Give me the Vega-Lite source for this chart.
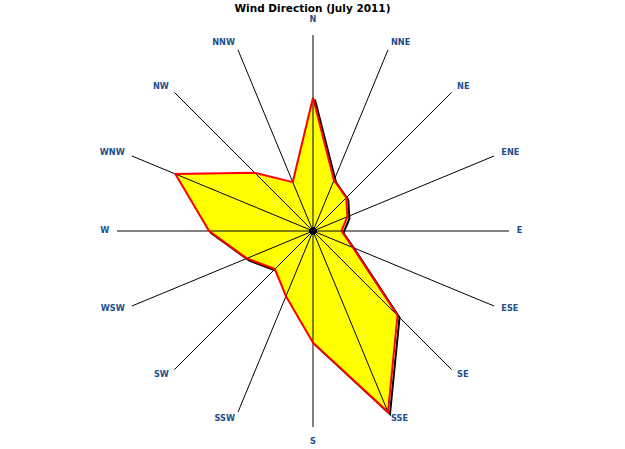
{
  "$schema": "https://vega.github.io/schema/vega-lite/v6.json",
  "width": 625,
  "height": 429,
  "autosize": {"type": "none"},
  "padding": {"left": 0, "top": 20, "right": 0, "bottom": 0},
  "background": "white",
  "title": {
    "text": "Wind Direction (July 2011)",
    "anchor": "middle",
    "font": "DejaVu Sans",
    "fontSize": 10.5,
    "fontWeight": "bold",
    "color": "black",
    "offset": 0
  },
  "config": {"view": {"stroke": null}},
  "data": {
    "values": [
      {"dir": "N", "angle": 0, "value": 0.68},
      {"dir": "NNE", "angle": 22.5, "value": 0.28},
      {"dir": "NE", "angle": 45, "value": 0.24},
      {"dir": "ENE", "angle": 67.5, "value": 0.19},
      {"dir": "E", "angle": 90, "value": 0.145},
      {"dir": "ESE", "angle": 112.5, "value": 0.22},
      {"dir": "SE", "angle": 135, "value": 0.61},
      {"dir": "SSE", "angle": 157.5, "value": 1.0},
      {"dir": "S", "angle": 180, "value": 0.57},
      {"dir": "SSW", "angle": 202.5, "value": 0.36},
      {"dir": "SW", "angle": 225, "value": 0.275},
      {"dir": "WSW", "angle": 247.5, "value": 0.365},
      {"dir": "W", "angle": 270, "value": 0.53},
      {"dir": "WNW", "angle": 292.5, "value": 0.76},
      {"dir": "NW", "angle": 315, "value": 0.42},
      {"dir": "NNW", "angle": 337.5, "value": 0.27}
    ]
  },
  "transform": [
    {"calculate": "sin(datum.angle * PI / 180)", "as": "ux"},
    {"calculate": "cos(datum.angle * PI / 180)", "as": "uy"},
    {"calculate": "datum.value * datum.ux", "as": "px"},
    {"calculate": "datum.value * datum.uy", "as": "py"},
    {"calculate": "1.04 * datum.ux", "as": "lx"},
    {"calculate": "1.04 * datum.uy", "as": "ly"},
    {"calculate": "1.077 * datum.uy", "as": "ly2"},
    {"calculate": "0", "as": "o"}
  ],
  "layer": [
    {
      "mark": {"type": "line", "interpolate": "linear-closed", "color": "black", "strokeWidth": 2, "xOffset": 2, "yOffset": 2},
      "encoding": {
        "x": {"field": "px", "type": "quantitative", "scale": {"domain": [-1.597, 1.592], "nice": false, "zero": false}, "axis": null},
        "y": {"field": "py", "type": "quantitative", "scale": {"domain": [-1.1122, 1.0765], "nice": false, "zero": false}, "axis": null},
        "order": {"field": "angle", "type": "quantitative"}
      }
    },
    {
      "mark": {"type": "line", "interpolate": "linear-closed", "color": "#FFFF00", "fill": "#FFFF00", "strokeWidth": 0},
      "encoding": {
        "x": {"field": "px", "type": "quantitative", "scale": {"domain": [-1.597, 1.592], "nice": false, "zero": false}, "axis": null},
        "y": {"field": "py", "type": "quantitative", "scale": {"domain": [-1.1122, 1.0765], "nice": false, "zero": false}, "axis": null},
        "order": {"field": "angle", "type": "quantitative"}
      }
    },
    {
      "mark": {"type": "rule", "color": "black", "strokeWidth": 1},
      "encoding": {
        "x": {"field": "o", "type": "quantitative", "scale": {"domain": [-1.597, 1.592], "nice": false, "zero": false}, "axis": null},
        "y": {"field": "o", "type": "quantitative", "scale": {"domain": [-1.1122, 1.0765], "nice": false, "zero": false}, "axis": null},
        "x2": {"field": "ux"},
        "y2": {"field": "uy"}
      }
    },
    {
      "mark": {"type": "line", "interpolate": "linear-closed", "color": "#FF0000", "strokeWidth": 2},
      "encoding": {
        "x": {"field": "px", "type": "quantitative", "scale": {"domain": [-1.597, 1.592], "nice": false, "zero": false}, "axis": null},
        "y": {"field": "py", "type": "quantitative", "scale": {"domain": [-1.1122, 1.0765], "nice": false, "zero": false}, "axis": null},
        "order": {"field": "angle", "type": "quantitative"}
      }
    },
    {
      "transform": [{"filter": "datum.angle > 0 && datum.angle < 180"}],
      "mark": {"type": "text", "font": "DejaVu Sans", "fontSize": 8.2, "fontWeight": "bold", "color": "#1F4E8C", "align": "left", "baseline": "middle"},
      "encoding": {
        "x": {"field": "lx", "type": "quantitative", "scale": {"domain": [-1.597, 1.592], "nice": false, "zero": false}, "axis": null},
        "y": {"field": "ly", "type": "quantitative", "scale": {"domain": [-1.1122, 1.0765], "nice": false, "zero": false}, "axis": null},
        "text": {"field": "dir"}
      }
    },
    {
      "transform": [{"filter": "datum.angle > 180"}],
      "mark": {"type": "text", "font": "DejaVu Sans", "fontSize": 8.2, "fontWeight": "bold", "color": "#1F4E8C", "align": "right", "baseline": "middle"},
      "encoding": {
        "x": {"field": "lx", "type": "quantitative", "scale": {"domain": [-1.597, 1.592], "nice": false, "zero": false}, "axis": null},
        "y": {"field": "ly", "type": "quantitative", "scale": {"domain": [-1.1122, 1.0765], "nice": false, "zero": false}, "axis": null},
        "text": {"field": "dir"}
      }
    },
    {
      "transform": [{"filter": "datum.angle == 0 || datum.angle == 180"}],
      "mark": {"type": "text", "font": "DejaVu Sans", "fontSize": 8.2, "fontWeight": "bold", "color": "#1F4E8C", "align": "center", "baseline": "middle"},
      "encoding": {
        "x": {"field": "o", "type": "quantitative", "scale": {"domain": [-1.597, 1.592], "nice": false, "zero": false}, "axis": null},
        "y": {"field": "ly2", "type": "quantitative", "scale": {"domain": [-1.1122, 1.0765], "nice": false, "zero": false}, "axis": null},
        "text": {"field": "dir"}
      }
    },
    {
      "mark": {"type": "point", "filled": true, "color": "black", "size": 45, "opacity": 1},
      "encoding": {
        "x": {"field": "o", "type": "quantitative", "scale": {"domain": [-1.597, 1.592], "nice": false, "zero": false}, "axis": null},
        "y": {"field": "o", "type": "quantitative", "scale": {"domain": [-1.1122, 1.0765], "nice": false, "zero": false}, "axis": null}
      }
    }
  ]
}
